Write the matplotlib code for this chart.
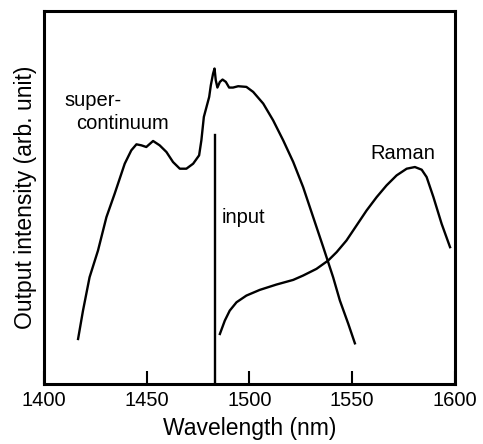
import numpy as np
import matplotlib
matplotlib.use('Agg')
import matplotlib.pyplot as plt

plt.rcParams['font.family'] = ['Liberation Sans', 'DejaVu Sans']

# supercontinuum spectrum (wavelength nm, arb. intensity)
sc_wl = [1416.6, 1419.0, 1422.2, 1426.3, 1430.4, 1434.4, 1439.3, 1442.5, 1445.0, 1447.4,
         1449.8, 1453.1, 1456.3, 1459.6, 1462.8, 1466.1, 1469.3, 1472.6, 1475.5, 1476.6,
         1477.8, 1479.1, 1480.4, 1481.2, 1482.3, 1483.0, 1483.6, 1484.4, 1485.6, 1486.9,
         1488.5, 1490.1, 1492.0, 1494.5, 1498.5, 1501.8, 1506.7, 1511.5, 1516.4, 1521.3,
         1526.1, 1531.0, 1535.9, 1540.7, 1544.0, 1548.1, 1551.3]
sc_int = [135, 220, 320, 400, 500, 570, 660, 700, 718, 715,
          710, 728, 715, 695, 665, 645, 645, 660, 685, 730,
          800, 830, 860, 895, 930, 945, 910, 888, 905, 912,
          905, 888, 888, 892, 890, 875, 840, 790, 730, 665,
          590, 500, 410, 320, 250, 180, 122]

# Raman spectrum
ra_wl = [1485.6, 1488.0, 1490.4, 1493.7, 1498.5, 1505.0, 1513.1, 1521.3, 1526.1, 1532.6,
         1538.3, 1542.4, 1547.2, 1552.1, 1557.0, 1561.9, 1566.7, 1571.6, 1576.5, 1580.5,
         1583.8, 1586.2, 1589.5, 1593.5, 1597.6]
ra_int = [150, 190, 220, 245, 265, 282, 298, 312, 325, 345,
          370, 395, 430, 475, 520, 560, 595, 625, 645, 650,
          642, 620, 560, 480, 410]

# input pump line
input_wl = 1483.1
input_int = 745

fig = plt.figure(figsize=(4.83, 4.44), dpi=100)
ax = fig.add_axes([0.091, 0.135, 0.851, 0.840])

ax.plot(sc_wl, sc_int, color='k', lw=1.7)
ax.plot(ra_wl, ra_int, color='k', lw=1.7)
ax.plot([input_wl, input_wl], [0, input_int], color='k', lw=1.7)

ax.text(1410.2, 850, 'super-', fontsize=14.5, va='center', ha='left')
ax.text(1415.6, 780, 'continuum', fontsize=14.5, va='center', ha='left')
ax.text(1486.4, 500, 'input', fontsize=14.5, va='center', ha='left')
ax.text(1558.6, 690, 'Raman', fontsize=14.5, va='center', ha='left')

ax.set_xlim(1400, 1600)
ax.set_ylim(0, 1117)
ax.set_xticks([1400, 1450, 1500, 1550, 1600])
ax.set_yticks([])
ax.tick_params(axis='x', direction='in', length=9.5, width=1.5, labelsize=14.5, pad=5)
for s in ax.spines.values():
    s.set_linewidth(2.2)

ax.set_xlabel('Wavelength (nm)', fontsize=16.5, labelpad=5)
ax.set_ylabel('Output intensity (arb. unit)', fontsize=16.5, labelpad=5)

fig.savefig('out.png', dpi=100)
